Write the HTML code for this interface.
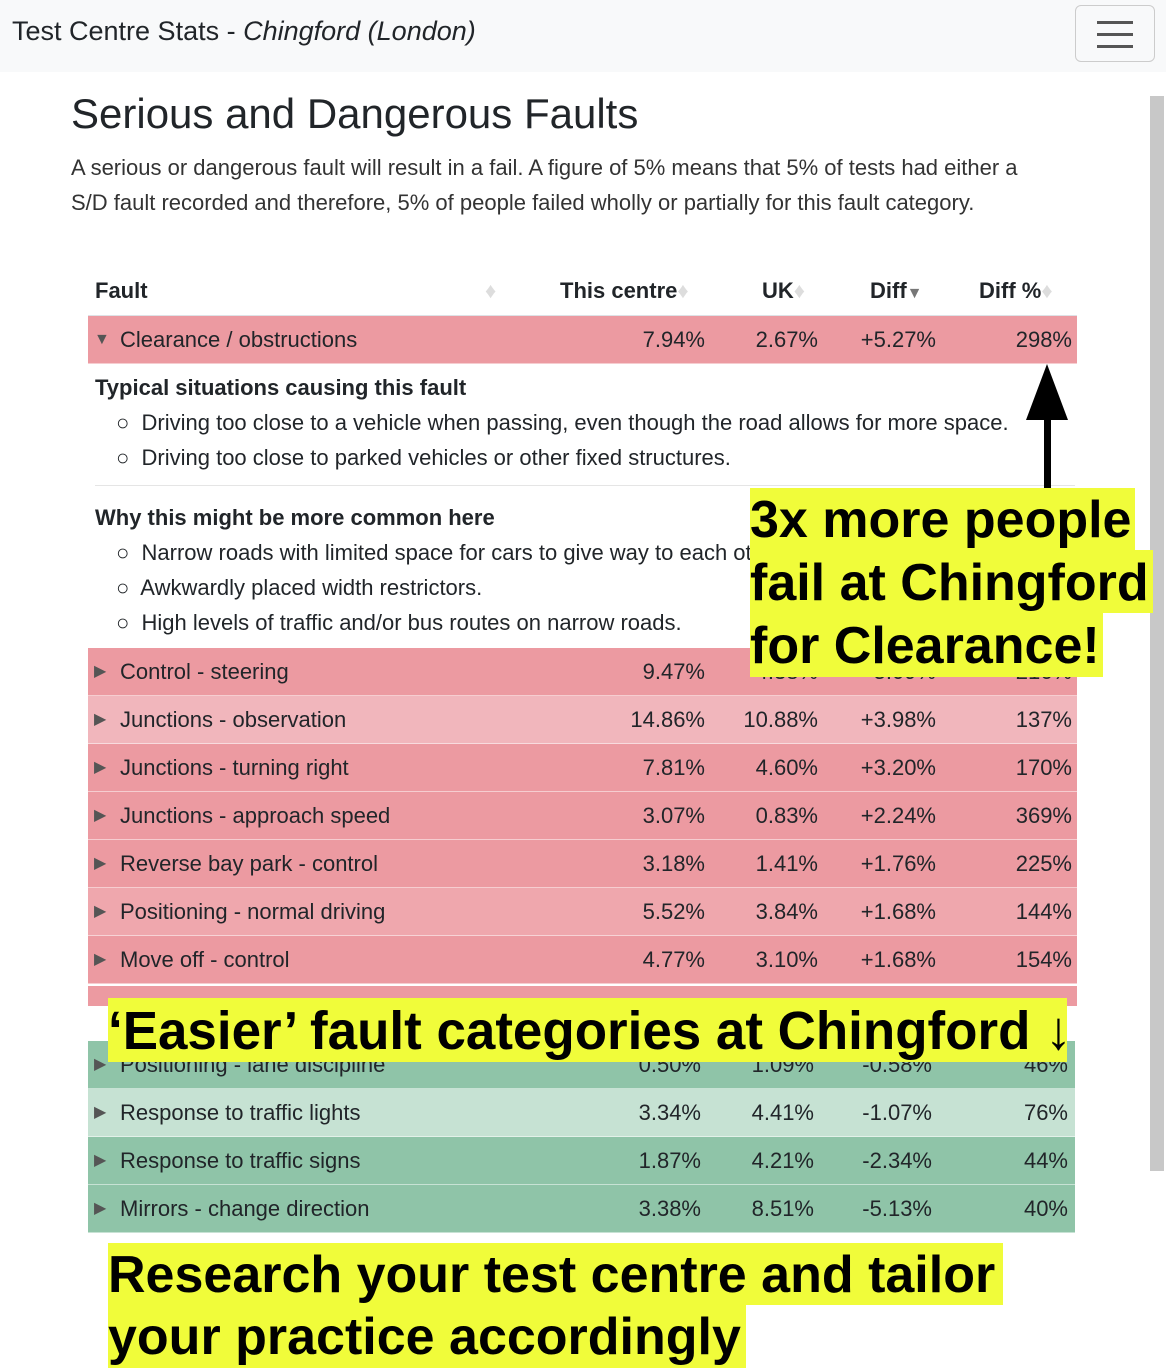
<!DOCTYPE html>
<html><head><meta charset="utf-8"><style>
body{margin:0;width:1166px;height:1368px;overflow:hidden;background:#fff;font-family:"Liberation Sans",sans-serif;color:#212529;position:relative}
.abs{position:absolute}
.nav{left:0;top:0;width:1166px;height:72px;background:#f8f9fa}
.row{position:absolute;left:88px;width:989px;height:47px;font-size:22px;line-height:47px;border-bottom:1px solid rgba(255,255,255,.5)}
.row span{position:absolute;top:0}
.hl{background:#f0fc3a;color:#000;font-weight:bold;position:absolute;white-space:nowrap}
</style></head><body>
<div class="abs nav">
 <div class="abs" style="left:12px;top:16px;font-size:27px">Test Centre Stats - <i>Chingford (London)</i></div>
 <div class="abs" style="left:1075px;top:5px;width:78px;height:55px;border:1px solid #ccc;border-radius:6px">
  <div class="abs" style="left:21px;top:15px;width:36px;height:3px;background:#555"></div>
  <div class="abs" style="left:21px;top:27px;width:36px;height:3px;background:#555"></div>
  <div class="abs" style="left:21px;top:39px;width:36px;height:3px;background:#555"></div>
 </div>
</div>
<div class="abs" style="left:1150px;top:96px;width:14px;height:1075px;background:#c8c8c8"></div>
<div class="abs" style="left:71px;top:90px;font-size:42px;font-weight:500">Serious and Dangerous Faults</div>
<div class="abs" style="left:71px;top:150px;width:980px;font-size:22px;line-height:35px;color:#333">A serious or dangerous fault will result in a fail. A figure of 5% means that 5% of tests had either a S/D fault recorded and therefore, 5% of people failed wholly or partially for this fault category.</div>
<div class="abs" style="left:88px;top:270px;width:989px;height:45px;font-size:22px;font-weight:bold;border-bottom:2px solid #dee2e6">
 <span class="abs" style="left:7px;top:8px">Fault <span style="color:#ddd;position:absolute;left:390px">♦</span></span>
 <span class="abs" style="left:472px;top:8px">This centre<span style="color:#ddd">♦</span></span>
 <span class="abs" style="left:674px;top:8px">UK<span style="color:#ddd">♦</span></span>
 <span class="abs" style="left:782px;top:8px">Diff<span style="color:#777;font-size:16px">▼</span></span>
 <span class="abs" style="left:891px;top:8px">Diff %<span style="color:#ddd">♦</span></span>
</div>
<div class="abs" style="left:95px;top:370px;font-size:22px;line-height:35px;width:980px">
 <b>Typical situations causing this fault</b>
 <div style="padding-left:21px">○&nbsp; Driving too close to a vehicle when passing, even though the road allows for more space.<br>○&nbsp; Driving too close to parked vehicles or other fixed structures.</div>
 <div style="border-top:1px solid #e5e5e5;margin-top:10px;padding-top:14px"><b>Why this might be more common here</b></div>
 <div style="padding-left:21px">○&nbsp; Narrow roads with limited space for cars to give way to each other.<br>○&nbsp; Awkwardly placed width restrictors.<br>○&nbsp; High levels of traffic and/or bus routes on narrow roads.</div>
</div>
<div id="rows"></div>
<div class="abs" style="left:88px;top:986px;width:989px;height:20px;background:#ec9aa1"></div>
<script>
const names=["Clearance / obstructions","Control - steering","Junctions - observation","Junctions - turning right","Junctions - approach speed","Reverse bay park - control","Positioning - normal driving","Move off - control","Positioning - lane discipline","Response to traffic lights","Response to traffic signs","Mirrors - change direction"];
const centre=["7.94%","9.47%","14.86%","7.81%","3.07%","3.18%","5.52%","4.77%","0.50%","3.34%","1.87%","3.38%"];
const uk=["2.67%","4.38%","10.88%","4.60%","0.83%","1.41%","3.84%","3.10%","1.09%","4.41%","4.21%","8.51%"];
const diff=["+5.27%","+5.09%","+3.98%","+3.20%","+2.24%","+1.76%","+1.68%","+1.68%","-0.58%","-1.07%","-2.34%","-5.13%"];
const pct=["298%","216%","137%","170%","369%","225%","144%","154%","46%","76%","44%","40%"];
const tops=[316,648,696,744,792,840,888,936,1041,1089,1137,1185];
const bgs=["#ec9aa1","#ec9aa1","#f1b6bc","#ec9aa1","#ec9aa1","#ec9aa1","#efa7ad","#ec9aa1","#8fc4a8","#c6e2d3","#8fc4a8","#8fc4a8"];
const c=document.getElementById('rows');
names.forEach((n,i)=>{
 const r=document.createElement('div');
 r.className='row';
 
 
 const g=i>=8;
 r.style.top=tops[i]+'px';r.style.background=bgs[i];if(g)r.style.width='987px';
 const o=g?-2:0;
 r.innerHTML=`<span style="left:6px;font-size:16px;color:#555">${i==0?'▼':'▶'}</span><span style="left:32px">${n}</span><span style="right:${372-o}px">${centre[i]}</span><span style="right:${259-o}px">${uk[i]}</span><span style="right:${141-o}px">${diff[i]}</span><span style="right:${5-o}px">${pct[i]}</span>`;
 c.appendChild(r);
});
</script>
<div class="abs" style="left:1044px;top:415px;width:7px;height:78px;background:#000"></div>
<div class="abs" style="left:1026px;top:364px;width:0;height:0;border-left:21px solid transparent;border-right:21px solid transparent;border-bottom:56px solid #000"></div>
<div class="hl" style="left:750px;top:488px;width:385px;height:62px;font-size:52px;line-height:64px">3x more people</div>
<div class="hl" style="left:750px;top:550px;width:403px;height:63px;font-size:52px;line-height:66px">fail at Chingford</div>
<div class="hl" style="left:750px;top:613px;width:353px;height:64px;font-size:52px;line-height:66px">for Clearance!</div>
<div class="hl" style="left:108px;top:998px;width:959px;height:64px;overflow:hidden"><div style="font-size:54px;line-height:66px;transform:scaleX(.98);transform-origin:0 0;width:1066px">‘Easier’ fault categories at Chingford <span style="font-weight:normal">↓</span></div></div>
<div class="hl" style="left:108px;top:1243px;width:895px;height:62px;font-size:52px;line-height:64px;overflow:hidden">Research your test centre and tailor</div>
<div class="hl" style="left:108px;top:1305px;width:638px;height:63px;font-size:52px;line-height:64px;overflow:hidden">your practice accordingly</div>
</body></html>
